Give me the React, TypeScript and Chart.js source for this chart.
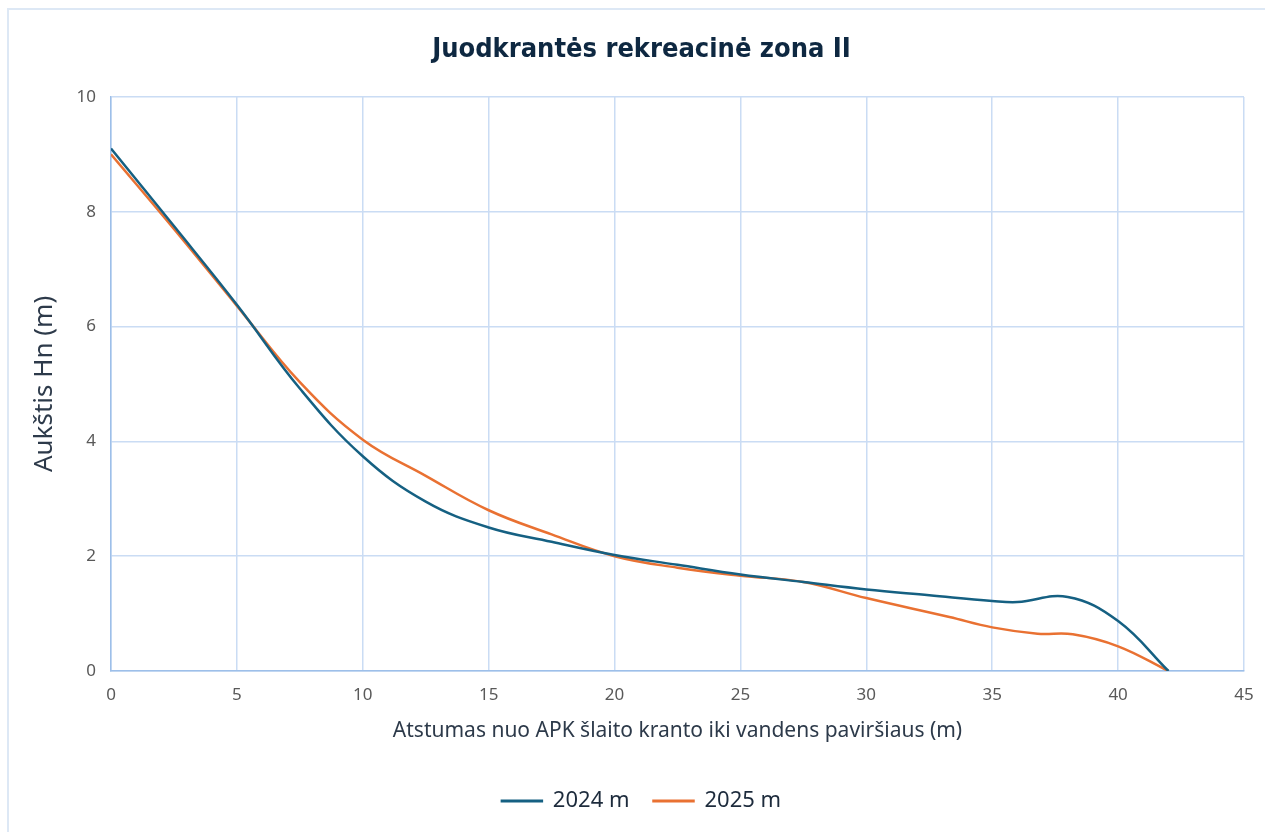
import React, { useEffect, useRef } from "react";
import { Chart, registerables } from "chart.js";

Chart.register(...registerables);

const chartTitle = "Juodkrantės rekreacinė zona II";
const xAxisTitle = "Atstumas nuo APK šlaito kranto iki vandens paviršiaus (m)";
const yAxisTitle = "Aukštis Hn (m)";

const seriesLabels = ["2024 m", "2025 m"];

const distance2024 = [0, 2.5, 5, 7.5, 10, 12.5, 15, 17.5, 20, 22.5, 25, 27.5, 30, 32.5, 35, 36, 38, 40, 42];
const height2024 = [9.1, 7.75, 6.38, 4.92, 3.74, 2.95, 2.5, 2.25, 2.02, 1.85, 1.68, 1.55, 1.42, 1.32, 1.22, 1.2, 1.29, 0.87, 0];

const distance2025 = [0, 2.5, 5, 7.5, 10, 12.5, 15, 17.5, 20, 22.5, 25, 27.5, 30, 33.3, 35, 36.8, 38.2, 40, 42];
const height2025 = [9.0, 7.7, 6.36, 5.03, 4.03, 3.4, 2.8, 2.38, 2.0, 1.8, 1.66, 1.55, 1.27, 0.94, 0.76, 0.65, 0.64, 0.43, 0];

const xMin = 0;
const xMax = 45;
const xStep = 5;
const yMin = 0;
const yMax = 10;
const yStep = 2;

const colors = ["#156082", "#E97132"];

const W = 1249;
const H = 816;

export default function App() {
  const ref = useRef<HTMLCanvasElement | null>(null);

  useEffect(() => {
    if (!ref.current) return;
    const toPts = (xs: number[], ys: number[]) => xs.map((x, i) => ({ x, y: ys[i] }));
    const font = "'Noto Sans', 'DejaVu Sans', sans-serif";
    const chart = new Chart(ref.current, {
      type: "line",
      data: {
        datasets: [
          {
            label: seriesLabels[0],
            data: toPts(distance2024, height2024),
            borderColor: colors[0],
            backgroundColor: colors[0],
            borderWidth: 2.5,
            pointRadius: 0,
            tension: 0.4,
          },
          {
            label: seriesLabels[1],
            data: toPts(distance2025, height2025),
            borderColor: colors[1],
            backgroundColor: colors[1],
            borderWidth: 2.5,
            pointRadius: 0,
            tension: 0.4,
          },
        ],
      },
      options: {
        responsive: false,
        animation: false,
        layout: { padding: { left: 31, right: 13, top: 0, bottom: 2 } },
        plugins: {
          title: {
            display: true,
            text: chartTitle,
            color: "#0e2841",
            font: { family: "'Liberation Sans Narrow', 'DejaVu Sans Condensed', 'Roboto', sans-serif", size: 27, weight: "bold" },
            padding: { top: 25.5, bottom: 31 },
          },
          legend: {
            position: "bottom",
            labels: {
              color: "#1d2b3c",
              font: { family: font, size: 22 },
              boxWidth: 40,
              boxHeight: 0.5,
              padding: 24,
            },
          },
          tooltip: { enabled: false },
        },
        scales: {
          x: {
            type: "linear",
            min: xMin,
            max: xMax,
            ticks: { stepSize: xStep, color: "#595959", font: { family: font, size: 17 }, padding: 14 },
            grid: { color: "#cadcf4", drawTicks: false, lineWidth: 1.5 },
            border: { color: "#9dbfe9", width: 1.5 },
            title: {
              display: true,
              text: xAxisTitle,
              color: "#2d3a4a",
              font: { family: font, size: 21 },
              padding: { top: 0, bottom: 22.5 },
            },
            afterFit: (s: any) => {
              s.height = 95;
              s.paddingRight = 9;
            },
          },
          y: {
            min: yMin,
            max: yMax,
            ticks: { stepSize: yStep, color: "#595959", font: { family: font, size: 17 }, padding: 15 },
            grid: { color: "#cadcf4", drawTicks: false, lineWidth: 1.5 },
            border: { color: "#9dbfe9", width: 1.5 },
            title: {
              display: true,
              text: yAxisTitle,
              color: "#2d3a4a",
              font: { family: font, size: 26 },
              padding: { top: -9.6, bottom: 0 },
            },
            afterFit: (s: any) => {
              s.width = 72;
            },
          },
        },
      },
    } as any);
    return () => chart.destroy();
  }, []);

  return (
    <div style={{ position: "relative", width: W, height: H }}>
      <div
        style={{
          position: "fixed",
          left: 7,
          top: 8,
          width: 1400,
          height: 1000,
          borderTop: "2px solid #dde8f5",
          borderLeft: "2px solid #dde8f5",
          pointerEvents: "none",
        }}
      />
      <canvas ref={ref} width={W} height={H} style={{ position: "absolute", left: 0, top: 0 }} />
    </div>
  );
}
